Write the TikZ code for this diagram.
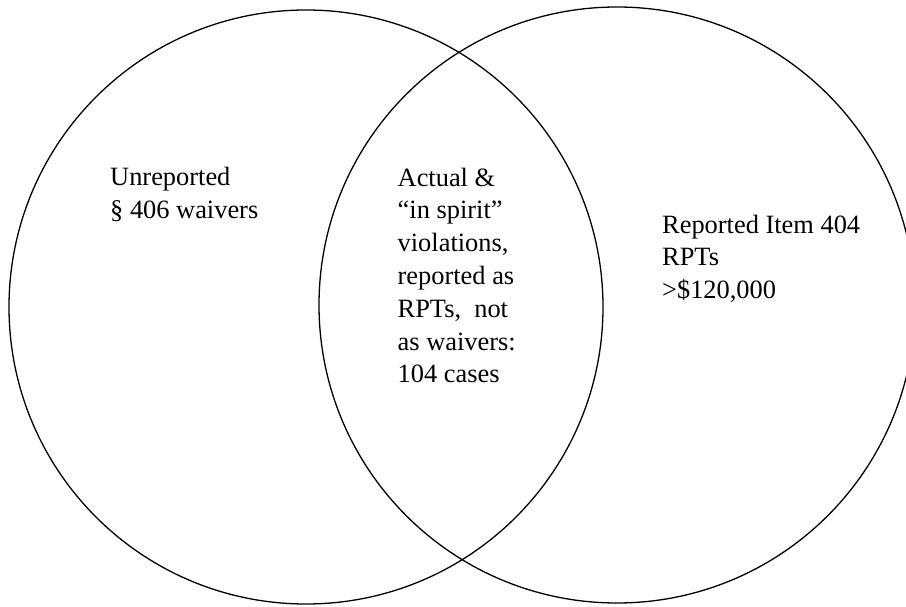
\documentclass[tikz,border=0pt]{standalone}
\usepackage{fontspec}
\setmainfont{Liberation Serif}
\begin{document}
\begin{tikzpicture}[x=1pt,y=-1pt,
  ring/.style={draw=black,line width=1.3pt},
  label/.style={anchor=base west,inner sep=0pt,align=left,font=\fontsize{26.4}{32.8}\selectfont}]
\useasboundingbox (0,0) rectangle (906,607);
\clip (0,0) rectangle (906,607);
\fill[white] (0,0) rectangle (906,607);
\node[ring,circle,minimum size=594pt,inner sep=0pt] (left) at (306,307) {};
\node[ring,circle,minimum size=596pt,inner sep=0pt] (right) at (617,305) {};
\node[label] (ltext) at (110,218.8) {Unreported\\§ 406 waivers};
\node[label] (ctext) at (397.5,382.8) {Actual \&\\“in spirit”\\violations,\\reported as\\RPTs,\ \ not\\as waivers:\\104 cases};
\node[label] (rtext) at (662,298.6) {Reported Item 404\\RPTs\\>\$120,000};
\end{tikzpicture}
\end{document}
